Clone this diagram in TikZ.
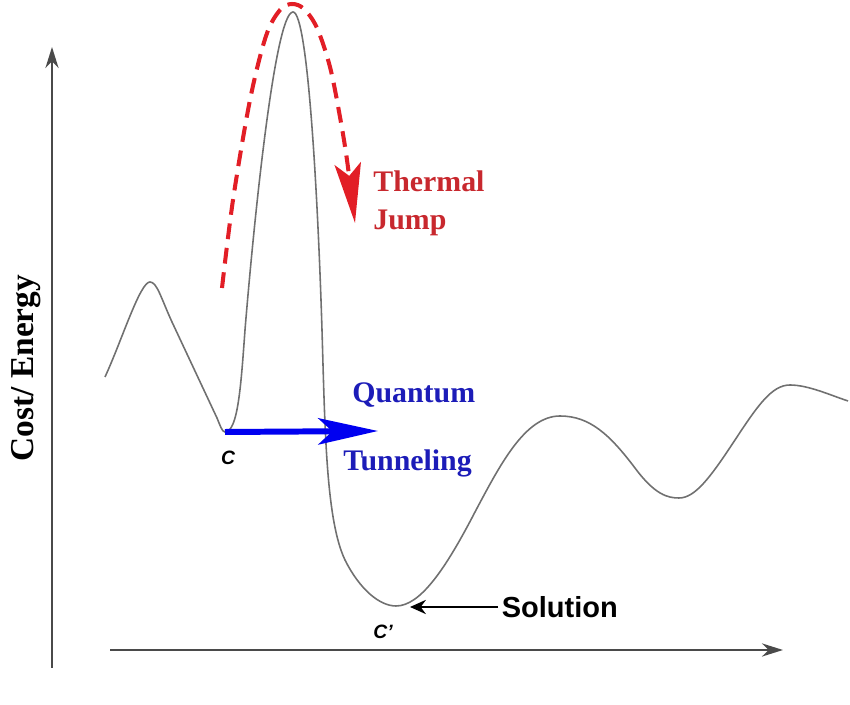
\documentclass[tikz,border=0pt]{standalone}
\usepackage{fontspec}
\setmainfont{Liberation Serif}
\setsansfont{Liberation Sans}
\usetikzlibrary{arrows.meta}
\definecolor{curvegray}{HTML}{707070}
\definecolor{axisgray}{HTML}{4A4A4A}
\definecolor{jumpred}{HTML}{E21E26}
\definecolor{textred}{HTML}{C8282E}
\definecolor{tunnelblue}{HTML}{0000F0}
\definecolor{textblue}{HTML}{1C1CB8}
\tikzset{
  axisline/.style={draw=axisgray, line width=1.1pt, -{Stealth[length=12pt,width=7.5pt]}},
  landscape/.style={draw=curvegray, line width=0.9pt},
  serifbig/.style={font=\bfseries\fontsize{17}{19}\selectfont, inner sep=0pt, anchor=base west},
  pointlab/.style={font=\sffamily\bfseries\itshape\fontsize{11}{13}\selectfont, inner sep=0pt},
  jumparrow/.style={draw=jumpred, line width=2.3pt, dash pattern=on 9pt off 5pt, -{Stealth[length=34pt,width=15pt,inset=7pt]}},
  tunnelarrow/.style={draw=tunnelblue, line width=3.4pt, -{Stealth[length=34pt,width=15pt,inset=8pt]}},
  solarrow/.style={draw=black, line width=1.5pt, -{Stealth[length=9pt,width=8pt]}}
}
\begin{document}
\begin{tikzpicture}[x=0.02cm,y=-0.02cm]
\useasboundingbox (0,0) rectangle (850,705);

% axes
\coordinate (yorig) at (52,668);
\coordinate (ytip) at (52,47);
\coordinate (xorig) at (110,650);
\coordinate (xtip) at (783,650);
\draw[axisline] (yorig) -- (ytip);
\draw[axisline] (xorig) -- (xtip);

\node[font=\bfseries\fontsize{19}{21}\selectfont, rotate=90, anchor=base, inner sep=0pt] (ylab) at (33,368) {Cost/ Energy};

% points
\coordinate (cpt) at (225,432);
\coordinate (cbot) at (396,606);
\coordinate (cmin) at (410,607);

% energy landscape
\draw[landscape] (105,377) .. controls (122,340) and (140,282) .. (150,282)
  .. controls (157,282) and (161,298) .. (172,322)
  -- (217,418) .. controls (220,425) and (222,432) .. (cpt)
  .. controls (238,432) and (241,385) .. (245,330)
  .. controls (254,220) and (275,12) .. (293,12)
  .. controls (308,12) and (318,200) .. (322,330)
  .. controls (325,430) and (326,520) .. (345,560)
  .. controls (360,590) and (380,606) .. (cbot)
  .. controls (420,606) and (445,570) .. (475,512)
  .. controls (500,465) and (525,416) .. (560,416)
  .. controls (590,416) and (610,435) .. (635,468)
  .. controls (655,495) and (668,498) .. (679,498)
  .. controls (695,498) and (710,478) .. (735,440)
  .. controls (758,405) and (772,385) .. (790,385)
  .. controls (808,385) and (830,395) .. (848,401);

\node[pointlab] (clab) at (228,458) {C};
\node[pointlab] (cplab) at (383,632) {C'};

% thermal jump
\coordinate (jstart) at (222,288);
\coordinate (jtip) at (355,223);
\draw[jumparrow] plot[smooth, tension=0.55] coordinates {
  (jstart) (233,200) (250,100) (266,36) (280,10) (292,4) (304,9) (317,28) (330,67) (340,117) (347,160) (jtip)};
\node[serifbig, text=textred] (thermal) at (373,192) {Thermal};
\node[serifbig, text=textred] (jump) at (373,230) {Jump};

% quantum tunneling
\coordinate (qtip) at (378,431);
\draw[tunnelarrow] (cpt) -- (qtip);
\node[serifbig, text=textblue] (quantum) at (352,403) {Quantum};
\node[serifbig, text=textblue] (tunneling) at (343,471) {Tunneling};

% solution
\node[font=\sffamily\bfseries\fontsize{16.5}{18}\selectfont, anchor=west, inner sep=2pt] (sol) at (498,607) {Solution};
\draw[solarrow] (sol.west) -- (cmin);
\end{tikzpicture}
\end{document}
